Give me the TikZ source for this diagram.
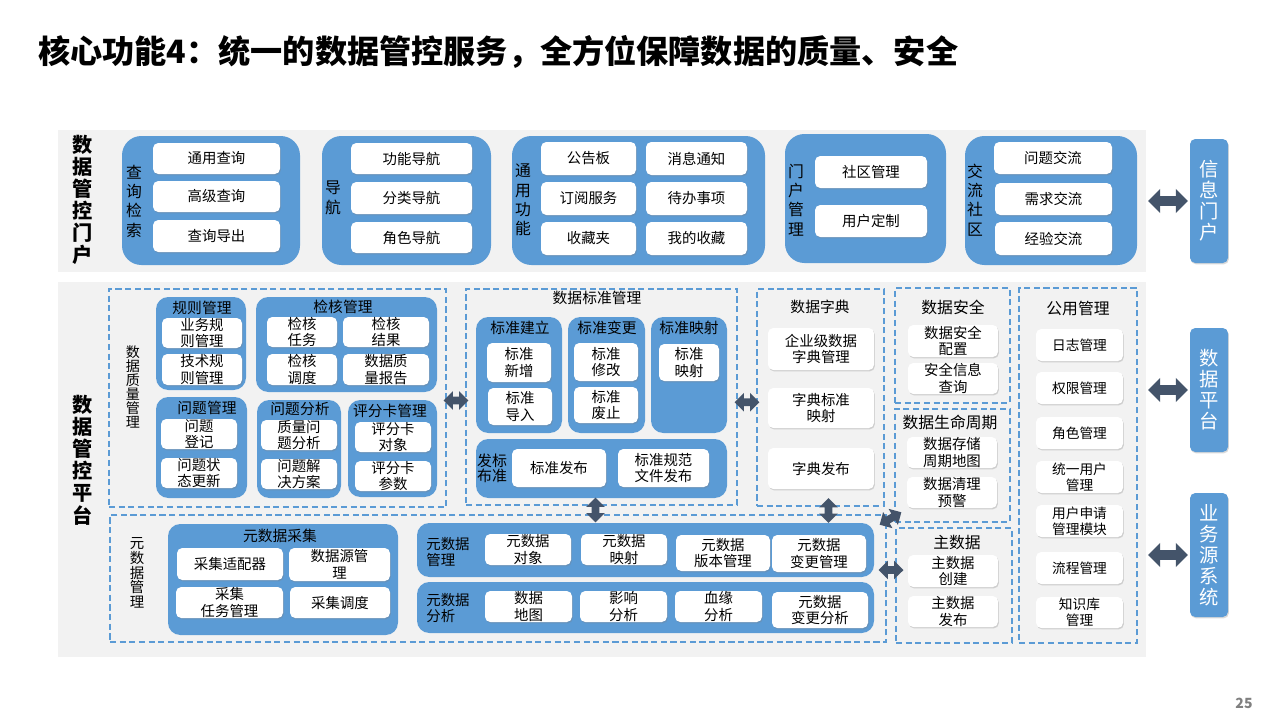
\documentclass[tikz,border=0pt]{standalone}
\usepackage{fontspec}
\setmainfont{Noto Sans CJK SC}
\usetikzlibrary{calc,shapes.arrows,shadows}

\definecolor{pblue}{HTML}{5B9BD5}
\definecolor{parrow}{HTML}{44546A}
\definecolor{pband}{HTML}{F2F2F2}
\definecolor{pgray}{HTML}{808080}

\tikzset{
  corners/.style args={#1/#2/#3/#4}{at={({(#1+#3)/2},{(#2+#4)/2})},
    minimum width={(#3-#1)*0.02cm}, minimum height={(#4-#2)*0.02cm}},
  band/.style={fill=pband, inner sep=0pt},
  bandlab/.style={align=center, inner sep=0pt, font=\bfseries\fontsize{11.5}{12.6}\selectfont},
  grp/.style={fill=pblue, rounded corners=11pt, inner sep=0pt},
  sgrp/.style={fill=pblue, rounded corners=7pt, inner sep=0pt},
  zone/.style={draw=pblue, line width=1.1pt, dash pattern=on 3.5pt off 2pt, inner sep=0pt},
  wbox/.style={fill=white, rounded corners=3pt, inner sep=0pt, align=center,
    font=\fontsize{8.2}{9.4}\selectfont,
    drop shadow={shadow xshift=0.5pt, shadow yshift=-0.8pt, opacity=0.3}},
  vlab/.style={align=center, inner sep=0pt, font=\fontsize{9}{11}\selectfont},
  slab/.style={align=center, inner sep=0pt, font=\fontsize{8.2}{8.3}\selectfont},
  ttl/.style={inner sep=0pt, font=\fontsize{8.4}{10}\selectfont},
  zttl/.style={inner sep=0pt, font=\fontsize{9}{10}\selectfont},
  side/.style={fill=pblue, rounded corners=3pt, inner sep=0pt, align=center, text=white,
    font=\fontsize{11}{12}\selectfont,
    drop shadow={shadow xshift=0.5pt, shadow yshift=-0.8pt, opacity=0.3}},
  bigarrow/.style={double arrow, fill=parrow, inner xsep=0pt, inner ysep=2.6pt,
    minimum height=22.7pt, double arrow head extend=4.1pt},
  smallarrow/.style={double arrow, fill=parrow, inner xsep=0pt, inner ysep=2pt,
    minimum height=14.2pt, double arrow head extend=3.1pt},
}

\begin{document}
\begin{tikzpicture}[x=0.02cm, y=-0.02cm]
\useasboundingbox (0,0) rectangle (1280,720);

% Title
\node[anchor=west, inner sep=0pt, font=\bfseries\fontsize{18.3}{20}\selectfont] (title) at (38,52)
  {核心功能4：统一的数据管控服务，全方位保障数据的质量、安全};
\node[text=pgray, font=\bfseries\fontsize{8}{9}\selectfont] (pageno) at (1244,703) {25};

% Portal band
\node[band, corners=58/130/1146/272] (portal) {};
\node[bandlab] (portallab) at (83,200) {数\\据\\管\\控\\门\\户};

% Query
\node[grp, corners=122/136/300/265] (gquery) {};
\node[vlab] (gquerylab) at (134,201) {查\\询\\检\\索};
\node[wbox, corners=153/143/280/174] (query1) {通用查询};
\node[wbox, corners=153/181/280/212] (query2) {高级查询};
\node[wbox, corners=153/220/280/252] (query3) {查询导出};

% Navigation
\node[grp, corners=322/136/491/265] (gnav) {};
\node[vlab] (gnavlab) at (333,198) {导\\航};
\node[wbox, corners=351/143/472/174] (nav1) {功能导航};
\node[wbox, corners=351/182/472/214] (nav2) {分类导航};
\node[wbox, corners=351/222/472/253] (nav3) {角色导航};

% Common functions
\node[grp, corners=512/136/765/265] (gfunc) {};
\node[vlab] (gfunclab) at (523,200) {通\\用\\功\\能};
\node[wbox, corners=541/142/636/175] (func1) {公告板};
\node[wbox, corners=646/142/747/175] (func2) {消息通知};
\node[wbox, corners=541/182/636/215] (func3) {订阅服务};
\node[wbox, corners=646/182/747/215] (func4) {待办事项};
\node[wbox, corners=541/222/636/255] (func5) {收藏夹};
\node[wbox, corners=646/222/747/255] (func6) {我的收藏};

% Portal management
\node[grp, corners=785/134/946/263] (gport) {};
\node[vlab] (gportlab) at (796,200) {门\\户\\管\\理};
\node[wbox, corners=815/156/927/188] (port1) {社区管理};
\node[wbox, corners=815/205/927/237] (port2) {用户定制};

% Community
\node[grp, corners=965/136/1137/265] (gcomm) {};
\node[vlab] (gcommlab) at (975,200) {交\\流\\社\\区};
\node[wbox, corners=994/142/1112/174] (comm1) {问题交流};
\node[wbox, corners=995/183/1112/215] (comm2) {需求交流};
\node[wbox, corners=995/222/1112/255] (comm3) {经验交流};

% Platform band
\node[band, corners=58/282/1146/657] (platform) {};
\node[bandlab] (platformlab) at (83,460) {数\\据\\管\\控\\平\\台};

% Data quality
\node[zone, corners=109/289/446/507] (quality) {};
\node[slab, font=\fontsize{8}{8}\selectfont] (qualitylab) at (133,387) {数\\据\\质\\量\\管\\理};
\node[sgrp, corners=156/297/246/390] (grule) {};
\node[ttl] at (202,308) {规则管理};
\node[wbox, corners=162/318/242/348] (rule1) {业务规\\则管理};
\node[wbox, corners=162/354/242/385] (rule2) {技术规\\则管理};
\node[sgrp, corners=256/297/437/392] (gcheck) {};
\node[ttl] at (343,307) {检核管理};
\node[wbox, corners=267/317/337/347] (check1) {检核\\任务};
\node[wbox, corners=343/317/429/347] (check2) {检核\\结果};
\node[wbox, corners=267/354/337/385] (check3) {检核\\调度};
\node[wbox, corners=343/354/429/385] (check4) {数据质\\量报告};
\node[sgrp, corners=156/397/247/498] (gissue) {};
\node[ttl] at (207,408) {问题管理};
\node[wbox, corners=161/419/237/449] (issue1) {问题\\登记};
\node[wbox, corners=161/458/237/488] (issue2) {问题状\\态更新};
\node[sgrp, corners=257/400/341/498] (ganal) {};
\node[ttl] at (300,409) {问题分析};
\node[wbox, corners=261/420/337/450] (anal1) {质量问\\题分析};
\node[wbox, corners=261/459/337/489] (anal2) {问题解\\决方案};
\node[sgrp, corners=348/400/437/497] (gscore) {};
\node[ttl] at (390,411) {评分卡管理};
\node[wbox, corners=355/422/431/452] (score1) {评分卡\\对象};
\node[wbox, corners=355/461/431/491] (score2) {评分卡\\参数};

% Data standards
\node[zone, corners=466/289/737/505] (standard) {};
\node[ttl] at (597,298) {数据标准管理};
\node[sgrp, corners=476/317/562/433] (gbuild) {};
\node[ttl] at (520,328) {标准建立};
\node[wbox, corners=487/343/551/382] (build1) {标准\\新增};
\node[wbox, corners=488/388/552/425] (build2) {标准\\导入};
\node[sgrp, corners=568/317/645/433] (gchange) {};
\node[ttl] at (607,328) {标准变更};
\node[wbox, corners=574/343/638/381] (change1) {标准\\修改};
\node[wbox, corners=574/387/638/423] (change2) {标准\\废止};
\node[sgrp, corners=651/317/727/433] (gmap) {};
\node[ttl] at (689,328) {标准映射};
\node[wbox, corners=659/344/719/381] (map1) {标准\\映射};
\node[sgrp, corners=476/439/727/498] (gpub) {};
\node[slab, font=\fontsize{8.5}{8.6}\selectfont] (gpublab) at (492,468) {发标\\布准};
\node[wbox, corners=512/449/606/487] (pub1) {标准发布};
\node[wbox, corners=618/449/709/487] (pub2) {标准规范\\文件发布};

% Data dictionary
\node[zone, corners=757/289/884/506] (dict) {};
\node[ttl] at (820,307) {数据字典};
\node[wbox, corners=768/328/874/370] (dict1) {企业级数据\\字典管理};
\node[wbox, corners=768/388/874/428] (dict2) {字典标准\\映射};
\node[wbox, corners=768/448/874/489] (dict3) {字典发布};

% Data security
\node[zone, corners=895/288/1010/403] (security) {};
\node[zttl] at (953,307) {数据安全};
\node[wbox, corners=908/325/998/357] (sec1) {数据安全\\配置};
\node[wbox, corners=908/363/998/394] (sec2) {安全信息\\查询};

% Data life cycle
\node[zone, corners=895/409/1010/522] (life) {};
\node[zttl] at (950,422) {数据生命周期};
\node[wbox, corners=907/437/997/468] (life1) {数据存储\\周期地图};
\node[wbox, corners=907/477/997/508] (life2) {数据清理\\预警};

% Master data
\node[zone, corners=896/528/1012/643] (master) {};
\node[zttl] at (957,542) {主数据};
\node[wbox, corners=908/555/998/587] (master1) {主数据\\创建};
\node[wbox, corners=908/596/998/627] (master2) {主数据\\发布};

% Common management
\node[zone, corners=1019/288/1137/643] (common) {};
\node[zttl] at (1078,308) {公用管理};
\foreach \t/\ya/\yb/\n in {日志管理/329/361/1, 权限管理/372/404/2, 角色管理/417/449/3,
    {统一用户\\管理}/461/493/4, {用户申请\\管理模块}/505/537/5, 流程管理/552/584/6,
    {知识库\\管理}/597/628/7}
  \node[wbox, font=\fontsize{7.8}{9}\selectfont, corners=1036/\ya/1123/\yb] (common\n) {\t};

% Metadata
\node[zone, corners=110/515/886/642] (meta) {};
\node[slab] (metalab) at (137,573) {元\\数\\据\\管\\理};
\node[sgrp, corners=168/524/398/635] (gcollect) {};
\node[ttl] at (280,536) {元数据采集};
\node[wbox, corners=177/548/283/580] (collect1) {采集适配器};
\node[wbox, corners=289/548/390/581] (collect2) {数据源管\\理};
\node[wbox, corners=176/587/283/618] (collect3) {采集\\任务管理};
\node[wbox, corners=290/587/390/618] (collect4) {采集调度};
\node[sgrp, corners=417/523/874/577] (gmeta) {};
\node[slab, align=left, font=\fontsize{8.2}{9.6}\selectfont] (gmetalab) at (448,552) {元数据\\管理};
\node[wbox, corners=485/534/571/565] (meta1) {元数据\\对象};
\node[wbox, corners=581/534/667/565] (meta2) {元数据\\映射};
\node[wbox, corners=676/535/770/571] (meta3) {元数据\\版本管理};
\node[wbox, corners=772/535/866/572] (meta4) {元数据\\变更管理};
\node[sgrp, corners=417/582/874/633] (ganalysis) {};
\node[slab, align=left, font=\fontsize{8.2}{9.6}\selectfont] (ganalysislab) at (448,608) {元数据\\分析};
\node[wbox, corners=485/591/572/622] (analysis1) {数据\\地图};
\node[wbox, corners=580/591/667/622] (analysis2) {影响\\分析};
\node[wbox, corners=675/591/762/622] (analysis3) {血缘\\分析};
\node[wbox, corners=772/592/868/628] (analysis4) {元数据\\变更分析};

% Outside systems
\node[side, corners=1190/139/1228/263] (infoportal) {信\\息\\门\\户};
\node[side, corners=1190/328/1228/452] (dataplat) {数\\据\\平\\台};
\node[side, corners=1190/493/1228/617] (bizsys) {业\\务\\源\\系\\统};

% Arrows
\node[bigarrow] (arr1) at ($(infoportal.west -| portal.east)!.5!(infoportal.west)$) {};
\node[bigarrow] (arr2) at ($(dataplat.west -| platform.east)!.5!(dataplat.west)$) {};
\node[bigarrow] (arr3) at ($(bizsys.west -| platform.east)!.5!(bizsys.west)$) {};
\node[smallarrow] (arr4) at ($(quality.east)!.5!(standard.west)+(0,3)$) {};
\node[smallarrow] (arr5) at ($(standard.east)!.5!(dict.west)+(0,5)$) {};
\node[smallarrow, rotate=90] (arr6) at ($(standard.south)!.5!(standard.south |- meta.north)+(-6,0)$) {};
\node[smallarrow, rotate=90] (arr7) at ($(dict.south)!.5!(dict.south |- meta.north)+(8,0)$) {};
\node[smallarrow, rotate=30] (arr8) at ($(life.south west)!.5!(meta.north east)$) {};
\node[smallarrow] (arr9) at ($(meta.east)!.5!(master.west)+(0,-12)$) {};

\end{tikzpicture}
\end{document}
